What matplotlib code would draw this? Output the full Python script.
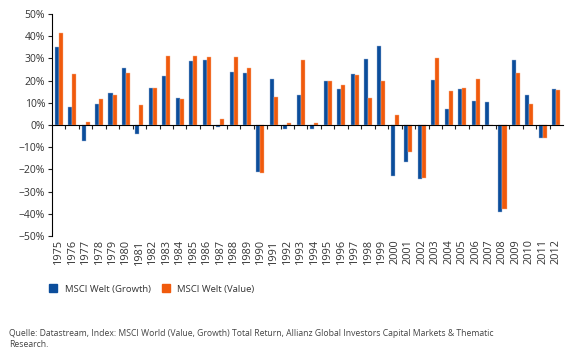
import numpy as np
import matplotlib
matplotlib.use("Agg")
import matplotlib.pyplot as plt
from matplotlib.lines import Line2D
from matplotlib.transforms import blended_transform_factory

# Jahre
years = list(range(1975, 2013))

# Jahresrenditen in %
growth = [35, 8, -7, 9.5, 14.5, 25.5, -4, 16.5, 22, 12, 29, 29.5, -1, 23.7, 23.3,
          -21, 20.9, -2, 13.3, -2, 20, 16, 23, 29.6, 35.6,
          -23, -16.8, -24.2, 20.3, 7.2, 16.2, 10.8, 10.2, -39.2, 29.1, 13.4, -5.9, 16.1]
value = [41.5, 23, 1.5, 11.5, 13.5, 23.5, 9, 16.5, 31, 11.5, 31, 30.5, 2.5, 30.5, 25.5,
         -21.6, 12.8, 1, 29.3, 0.8, 20, 17.9, 22.4, 12.2, 19.7,
         4.4, -12.3, -24, 30.2, 15.3, 16.8, 20.7, 0, -38, 23.4, 9.3, -5.8, 15.7]

y_ticks = list(range(-50, 51, 10))

blue = "#0b4d9b"
orange = "#f05a0c"
txt = "#333333"

plt.rcParams["font.family"] = ["Open Sans", "DejaVu Sans"]

fig = plt.figure(figsize=(5.85, 3.62), dpi=100)
ax = fig.add_axes([52 / 585, 1 - 236 / 362, 511 / 585, 222 / 362])

x = np.arange(len(years))
w = 0.3
ax.bar(x - 0.15, growth, w, color=blue, edgecolor="#9fb6d8", linewidth=0.3)
ax.bar(x + 0.15, value, w, color=orange, edgecolor="#f7b08a", linewidth=0.3)

ax.set_xlim(-0.5, len(years) - 0.5)
ax.set_ylim(-50, 50)

# y-Achse
ax.set_yticks(y_ticks)
ax.set_yticklabels([f"{v}%".replace("-", "\u2212") for v in y_ticks], fontsize=7.5, color=txt)
ax.tick_params(axis="y", direction="out", length=3, width=0.8, pad=2, color="#222222")

# x-Achse auf Null, Striche zwischen den Jahren
for s in ["top", "right"]:
    ax.spines[s].set_visible(False)
ax.spines["bottom"].set_position(("data", 0))
ax.spines["bottom"].set_linewidth(0.8)
ax.spines["left"].set_linewidth(0.8)
ax.set_xticks(x[:-1] + 0.5)
ax.set_xticklabels([])
ax.tick_params(axis="x", direction="out", length=3, width=0.8, color="#222222")

# Jahreszahlen unter dem Diagramm
trans = blended_transform_factory(ax.transData, ax.transAxes)
for xi, yr in zip(x, years):
    ax.text(xi, -0.015, str(yr), transform=trans, rotation=90, ha="center", va="top",
            fontsize=7.8, color=txt)

handles = [
    Line2D([], [], marker="s", linestyle="none", markersize=6, color=blue, label="MSCI Welt (Growth)"),
    Line2D([], [], marker="s", linestyle="none", markersize=6, color=orange, label="MSCI Welt (Value)"),
]
fig.legend(handles=handles, loc="upper left", bbox_to_anchor=(40 / 585, 1 - 281 / 362),
           ncol=2, frameon=False, fontsize=6.8, handletextpad=0.2, columnspacing=0.6,
           borderaxespad=0, labelcolor=txt)

fig.text(9 / 585, 1 - 329 / 362,
         "Quelle: Datastream, Index: MSCI World (Value, Growth) Total Return, Allianz Global Investors Capital Markets & Thematic\nResearch.",
         ha="left", va="top", fontsize=6.2, color="#444444", linespacing=1.35)

fig.savefig("out.png", dpi=100)
